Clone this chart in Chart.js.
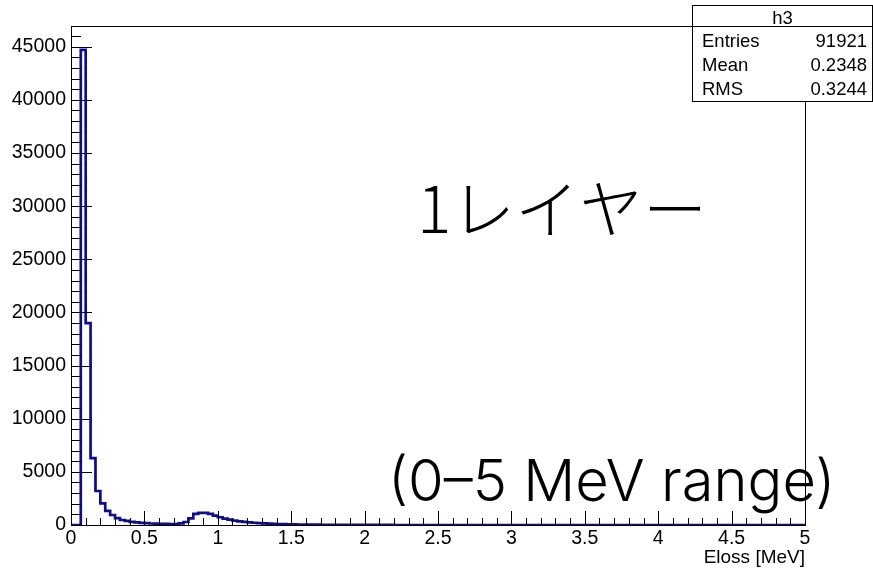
<!DOCTYPE html>
<html>
<head>
<meta charset="utf-8">
<script src="https://cdn.jsdelivr.net/npm/chart.js@4/dist/chart.umd.min.js"></script>
<style>
  html, body { margin: 0; padding: 0; background: #fff; }
</style>
</head>
<body>
<canvas id="c" width="873" height="574"></canvas>
<script>
// Energy-loss histogram h3: 150 bins of width 1/30 MeV over 0–5 MeV
const BIN_WIDTH = 1 / 30;
const X_MIN = 0, X_MAX = 5;
const Y_MAX = 46950;

const counts = [
  0, 0, 44700, 19000, 6300, 3200, 2040, 1320, 940, 640,
  470, 380, 300, 240, 200, 170, 140, 120, 110, 100,
  95, 90, 150, 280, 620, 1040, 1140, 1150, 1040, 880,
  730, 600, 500, 420, 350, 300, 250, 210, 180, 150,
  125, 105, 90, 78, 66, 56, 48, 42, 36, 32,
  28, 24, 21, 18, 16, 14, 12, 11, 10, 9,
  8, 6, 5, 4, 3, 3, 2, 2, 1, 1,
  1, 1, 0, 0, 0, 0, 0, 0, 0, 0,
  0, 0, 0, 0, 0, 0, 0, 0, 0, 0,
  0, 0, 0, 0, 0, 0, 0, 0, 0, 0,
  0, 0, 0, 0, 0, 0, 0, 0, 0, 0,
  0, 0, 0, 0, 0, 0, 0, 0, 0, 0,
  0, 0, 0, 0, 0, 0, 0, 0, 0, 0,
  0, 0, 0, 0, 0, 0, 0, 0, 0, 0,
  0, 0, 0, 0, 0, 0, 0, 0, 0, 0
];

const xTickValues = [0, 0.5, 1, 1.5, 2, 2.5, 3, 3.5, 4, 4.5, 5];
const yTickValues = [0, 5000, 10000, 15000, 20000, 25000, 30000, 35000, 40000, 45000];

const statTitle = 'h3';
const statNames = ['Entries', 'Mean', 'RMS'];
const statValues = ['91921', '0.2348', '0.3244'];

const xTitle = 'Eloss [MeV]';
const noteLayer = '1レイヤー';
const noteRange = '(0–5 MeV range)';

// step outline: one point per bin low edge, plus the closing upper edge
const points = counts.map((c, i) => ({ x: i * BIN_WIDTH, y: c }));
points.push({ x: X_MAX, y: counts[counts.length - 1] });

const SANS = '"Liberation Sans", Arial, Helvetica, sans-serif';
const AXIS_FONT = { family: SANS, size: 19.5 };

// frame, inward tick marks, stats box and annotations
const rootStyle = {
  id: 'rootStyle',
  afterDraw(chart) {
    const { ctx, chartArea: a, scales: { x, y } } = chart;
    ctx.save();
    ctx.strokeStyle = '#000';
    ctx.lineWidth = 1;

    // minor every 0.1 MeV, major every 0.5 MeV
    ctx.beginPath();
    for (let k = 0; k <= 50; k++) {
      const px = Math.round(x.getPixelForValue(k / 10)) + 0.5;
      const len = k % 5 === 0 ? 14 : 7;
      ctx.moveTo(px, a.bottom);
      ctx.lineTo(px, a.bottom - len);
    }
    // minor every 1000, major every 5000
    for (let k = 0; k <= 46; k++) {
      const py = Math.round(y.getPixelForValue(k * 1000)) + 0.5;
      const len = k % 5 === 0 ? 21 : 10;
      ctx.moveTo(a.left, py);
      ctx.lineTo(a.left + len, py);
    }
    ctx.stroke();

    ctx.strokeRect(Math.round(a.left) + 0.5, Math.round(a.top) + 0.5,
                   Math.round(a.right - a.left), Math.round(a.bottom - a.top));

    // statistics box
    const bx = 692.5, by = 5.5, bw = 180, bh = 96;
    ctx.fillStyle = '#fff';
    ctx.fillRect(bx, by, bw, bh);
    ctx.strokeRect(bx, by, bw, bh);
    ctx.beginPath();
    ctx.moveTo(bx, 26.5);
    ctx.lineTo(bx + bw, 26.5);
    ctx.stroke();

    ctx.fillStyle = '#000';
    ctx.font = '18.5px ' + SANS;
    ctx.textBaseline = 'alphabetic';
    ctx.textAlign = 'center';
    ctx.fillText(statTitle, bx + bw / 2, 24);
    const rows = [47, 71, 95];
    statNames.forEach((n, i) => {
      ctx.textAlign = 'left';
      ctx.fillText(n, 702, rows[i]);
      ctx.textAlign = 'right';
      ctx.fillText(statValues[i], 867, rows[i]);
    });

    // annotations
    ctx.font = '300 64px "Noto Sans CJK JP", "Noto Sans", sans-serif';
    ctx.textAlign = 'center';
    ctx.textBaseline = 'middle';
    ctx.fillText(noteLayer, 562, 209);

    // range note spans from x=388 to x=835
    const rangeFamily = 'Inter, "Open Sans", "Noto Sans", sans-serif';
    ctx.font = '300 100px ' + rangeFamily;
    const size = 100 * 447 / ctx.measureText(noteRange).width;
    ctx.font = '300 ' + size.toFixed(1) + 'px ' + rangeFamily;
    ctx.textAlign = 'left';
    ctx.textBaseline = 'alphabetic';
    ctx.fillText(noteRange, 388, 501);
    ctx.restore();
  }
};

new Chart(document.getElementById('c'), {
  type: 'line',
  data: {
    datasets: [{
      label: statTitle,
      data: points,
      stepped: 'before',
      borderColor: '#0c0c98',
      borderWidth: 2.7,
      pointRadius: 0,
      fill: false,
      tension: 0
    }]
  },
  options: {
    responsive: false,
    animation: false,
    devicePixelRatio: 1,
    layout: { padding: { top: 26, right: 68, left: 0, bottom: 0 } },
    plugins: { legend: { display: false }, tooltip: { enabled: false } },
    scales: {
      x: {
        type: 'linear',
        min: X_MIN,
        max: X_MAX,
        afterBuildTicks: s => { s.ticks = xTickValues.map(v => ({ value: v })); },
        afterFit: s => { s.height = 49; },
        grid: { display: false, drawTicks: false },
        border: { display: false },
        ticks: {
          color: '#000', font: AXIS_FONT, padding: 2,
          maxRotation: 0, autoSkip: false,
          callback: v => String(v)
        },
        title: {
          display: true, text: xTitle, align: 'end', color: '#000',
          font: { family: SANS, size: 19 }, padding: { top: 0, bottom: 5 }
        }
      },
      y: {
        type: 'linear',
        min: 0,
        max: Y_MAX,
        afterBuildTicks: s => { s.ticks = yTickValues.map(v => ({ value: v })); },
        afterFit: s => { s.width = 71; },
        grid: { display: false, drawTicks: false },
        border: { display: false },
        ticks: {
          color: '#000', font: AXIS_FONT, padding: 5,
          callback: v => String(v)
        }
      }
    }
  },
  plugins: [rootStyle]
});
</script>
</body>
</html>
